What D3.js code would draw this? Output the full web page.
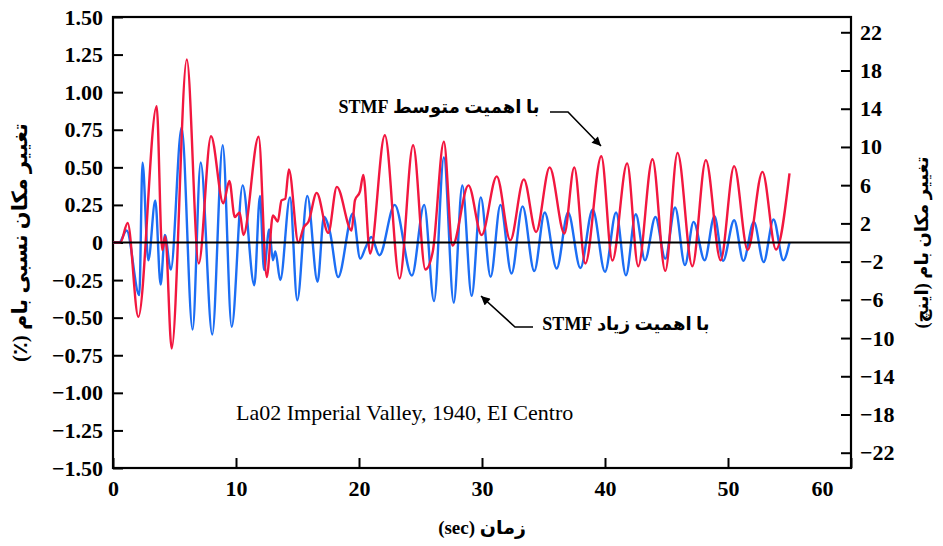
<!DOCTYPE html>
<html>
<head>
<meta charset="utf-8">
<script src="https://cdn.jsdelivr.net/npm/d3@7"></script>
<style>
	body{margin:0;background:#fff;}
	svg text{font-family:"Liberation Serif","DejaVu Sans",serif;}
</style>
</head>
<body>
<div id="chart"></div>
<script>
//turning points: [time (sec), roof drift (%)]
let mediumSTMF = [[0,0],[0.6,0],[1.19,0.13],[2.06,-0.495],[3.55,0.907],[4.0,-0.05],[4.25,0.04],[4.77,-0.705],
	[6.0,1.217],[6.97,-0.14],[7.97,0.707],[8.97,0.26],[9.46,0.41],[9.9,0.17],[10.3,0.2],[10.6,0.05],
	[11.84,0.703],[12.5,-0.23],[13.0,0.18],[13.4,0.14],[13.7,0.28],[14.0,0.29],[14.3,0.486],[15.07,0.0],
	[15.5,0.1],[15.9,0.14],[16.56,0.33],[17.5,0.064],[18.2,0.37],[19.4,0.08],[19.67,0.28],[20.08,0.34],
	[20.35,0.45],[20.9,-0.073],[22.1,0.713],[23.3,-0.24],[24.4,0.647],[25.4,-0.18],[26.0,-0.06],[26.9,0.67],
	[27.6,-0.02],[28.9,0.38],[29.97,0.05],[31.2,0.44],[32.3,0.015],[33.4,0.42],[34.4,0.07],[35.5,0.5],
	[36.7,0.06],[37.5,0.5],[38.4,-0.14],[39.7,0.574],[40.6,-0.12],[41.8,0.526],[42.7,-0.158],[43.86,0.554],
	[44.9,-0.189],[45.9,0.596],[47.1,-0.158],[48.2,0.548],[49.4,-0.118],[50.5,0.508],[51.6,-0.05],
	[52.8,0.47],[53.9,-0.047],[55.0,0.46]];

let highSTMF = [[0,0],[0.5,0],[1.11,0.08],[2.14,-0.35],[2.4,0.53],[2.87,-0.118],[3.44,0.28],[3.87,-0.28],
	[4.22,0.05],[4.7,-0.18],[5.58,0.765],[6.47,-0.579],[7.13,0.532],[8.07,-0.612],[8.92,0.647],[9.65,-0.56],
	[10.54,0.38],[11.49,-0.284],[11.95,0.31],[12.28,-0.184],[12.7,0.086],[13.0,-0.118],[13.2,-0.06],
	[13.6,-0.25],[14.39,0.30],[14.98,-0.384],[15.8,0.31],[16.63,-0.262],[17.15,0.17],[17.64,0.07],
	[18.3,-0.23],[19.5,0.193],[20.1,-0.107],[20.55,-0.03],[21.0,0.037],[21.66,-0.085],[22.9,0.25],
	[24.3,-0.22],[25.3,0.25],[26.1,-0.39],[26.9,0.566],[27.7,-0.40],[28.4,0.38],[29.16,-0.355],[29.9,0.3],
	[30.7,-0.228],[31.5,0.25],[32.4,-0.206],[33.3,0.24],[34.25,-0.19],[35.1,0.2],[36.07,-0.173],[37.0,0.2],
	[38.0,-0.17],[39.0,0.22],[40.0,-0.195],[40.9,0.2],[41.7,-0.218],[42.5,0.188],[43.25,-0.118],[44.1,0.17],
	[44.9,-0.107],[45.7,0.233],[46.5,-0.15],[47.2,0.137],[48.1,-0.118],[48.9,0.175],[49.6,-0.122],
	[50.5,0.148],[51.25,-0.122],[52.1,0.137],[52.9,-0.13],[53.7,0.153],[54.5,-0.118],[55.0,0]];

//tick labels
let xTicks = [0,10,20,30,40,50,60];
let leftTicks = [-1.5,-1.25,-1,-0.75,-0.5,-0.25,0,0.25,0.5,0.75,1,1.25,1.5];
let rightTicks = [22,18,14,10,6,2,-2,-6,-10,-14,-18,-22];

//texts
let leftTitle = "تغییر مکان نسبی بام (٪)";
let rightTitle = "تغییر مکان بام (اینچ)";
let xTitle = "زمان (sec)";
let recordName = "La02 Imperial Valley, 1940, EI Centro";
let mediumLabel = "با اهمیت متوسط STMF";
let highLabel = "با اهمیت زیاد STMF";


function drawChart(){

	//sizing
	let width = 943;
	let height = 546;
	let margin = {top:17, right:92, bottom:78, left:113};

	let svg = d3.select("#chart")
		.append("svg")
		.attr("width", width)
		.attr("height", height);

	let defs = svg.append("defs");
	defs.append("marker")
		.attr("id", "arrow")
		.attr("viewBox", "0 0 10 10")
		.attr("refX", 10)
		.attr("refY", 5)
		.attr("markerWidth", 11)
		.attr("markerHeight", 9)
		.attr("markerUnits", "userSpaceOnUse")
		.attr("orient", "auto")
		.append("path")
		.attr("d", "M0,0 L10,5 L0,10 z")
		.attr("fill", "#000");

	//scales
	const xScale = d3.scaleLinear()
		.domain([0,60])
		.range([margin.left, width-margin.right]);

	const yScale = d3.scaleLinear()
		.domain([-1.5,1.5])
		.range([height-margin.bottom, margin.top]);

	const yRight = d3.scaleLinear()
		.domain([-23.6,23.6])
		.range([height-margin.bottom, margin.top]);

	let fmt = d3.format(".2f");

	//axes (ticks point inside)
	let gx = svg.append("g")
		.attr("transform", `translate(0,${height-margin.bottom})`)
		.call(d3.axisBottom(xScale).tickValues(xTicks).tickSize(-10).tickPadding(12).tickSizeOuter(0));

	gx.selectAll("text").filter((d)=>d===60).attr("dx", -29);

	let gl = svg.append("g")
		.attr("transform", `translate(${margin.left},0)`)
		.call(d3.axisLeft(yScale).tickValues(leftTicks).tickSize(-10).tickPadding(10).tickSizeOuter(0)
			.tickFormat((d)=>{ return d===0 ? "0" : fmt(d); }));

	let gr = svg.append("g")
		.attr("transform", `translate(${width-margin.right},0)`)
		.call(d3.axisRight(yRight).tickValues(rightTicks).tickSize(-10).tickPadding(9).tickSizeOuter(0));

	[gx, gl, gr].forEach((g)=>{
		g.select(".domain").remove();
		g.attr("font-family", null)
			.attr("font-size", 22)
			.attr("font-weight", "bold");
		g.selectAll("line").attr("stroke", "#000").attr("stroke-width", 2);
		g.selectAll("text").attr("fill", "#000");
	});

	//frame
	svg.append("rect")
		.attr("x", margin.left)
		.attr("y", margin.top)
		.attr("width", width-margin.left-margin.right)
		.attr("height", height-margin.top-margin.bottom)
		.attr("fill", "none")
		.attr("stroke", "#000")
		.attr("stroke-width", 2.2);

	//lines
	let line = d3.line()
		.x((d)=>{ return xScale(d[0]); })
		.y((d)=>{ return yScale(d[1]); })
		.curve(d3.curveMonotoneX);

	svg.append("path")
		.datum(highSTMF)
		.attr("d", line)
		.attr("fill", "none")
		.attr("stroke", "#1c6ef4")
		.attr("stroke-width", 2.4);

	svg.append("path")
		.datum(mediumSTMF)
		.attr("d", line)
		.attr("fill", "none")
		.attr("stroke", "#f2173f")
		.attr("stroke-width", 2.4);

	//zero line
	svg.append("line")
		.attr("x1", xScale(0))
		.attr("x2", xScale(60))
		.attr("y1", yScale(0))
		.attr("y2", yScale(0))
		.attr("stroke", "#000")
		.attr("stroke-width", 2);

	//titles
	svg.append("text")
		.attr("transform", `translate(20,${yScale(0)}) rotate(-90)`)
		.attr("direction", "rtl")
		.attr("text-anchor", "middle")
		.attr("dy", "0.35em")
		.attr("font-size", 21)
		.attr("font-weight", "bold")
		.text(leftTitle);

	svg.append("text")
		.attr("transform", `translate(922,${yScale(0)}) rotate(-90)`)
		.attr("direction", "rtl")
		.attr("text-anchor", "middle")
		.attr("dy", "0.35em")
		.attr("font-size", 18)
		.attr("font-weight", "bold")
		.text(rightTitle);

	svg.append("text")
		.attr("x", xScale(30))
		.attr("y", 534)
		.attr("direction", "rtl")
		.attr("text-anchor", "middle")
		.attr("font-size", 19)
		.attr("font-weight", "bold")
		.text(xTitle);

	svg.append("text")
		.attr("x", 236)
		.attr("y", 420)
		.attr("font-size", 22)
		.text(recordName);

	//annotations
	svg.append("text")
		.attr("x", 439)
		.attr("y", 113)
		.attr("direction", "rtl")
		.attr("text-anchor", "middle")
		.attr("font-size", 18)
		.attr("font-weight", "bold")
		.text(mediumLabel);

	svg.append("polyline")
		.attr("points", "550,112 568,112 601,146")
		.attr("fill", "none")
		.attr("stroke", "#000")
		.attr("stroke-width", 1.6)
		.attr("marker-end", "url(#arrow)");

	svg.append("text")
		.attr("x", 626)
		.attr("y", 330)
		.attr("direction", "rtl")
		.attr("text-anchor", "middle")
		.attr("font-size", 18)
		.attr("font-weight", "bold")
		.text(highLabel);

	svg.append("polyline")
		.attr("points", "533,327 515,327 481,296")
		.attr("fill", "none")
		.attr("stroke", "#000")
		.attr("stroke-width", 1.6)
		.attr("marker-end", "url(#arrow)");

} //function drawChart

drawChart();
</script>
</body>
</html>
